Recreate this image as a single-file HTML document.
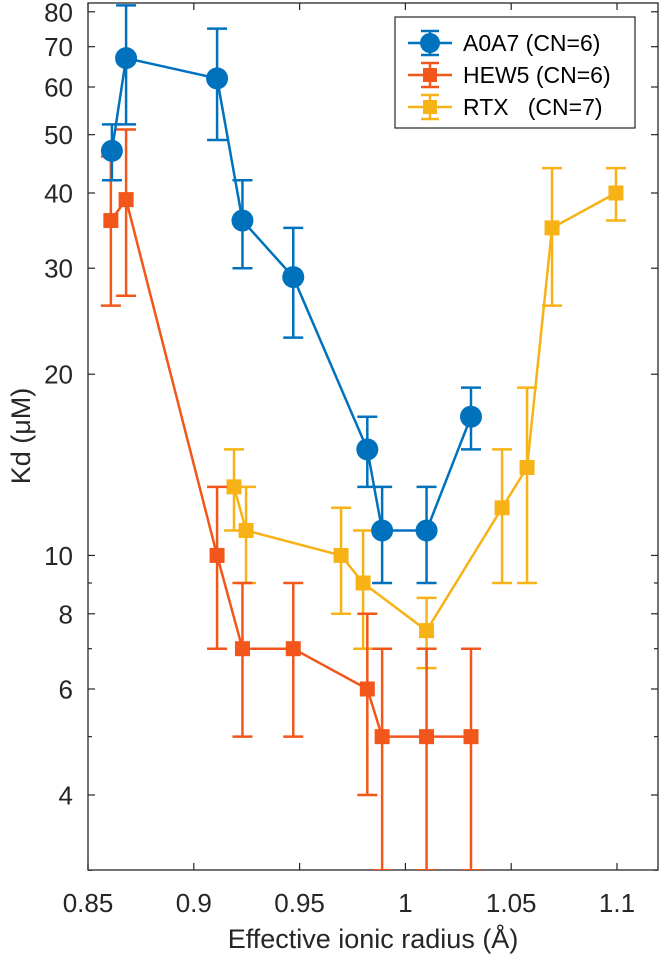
<!DOCTYPE html>
<html><head><meta charset="utf-8"><style>
body{margin:0;background:#fff;}
svg{display:block;font-family:"Liberation Sans",sans-serif;}
</style></head><body>
<svg id="chart" width="661" height="959"></svg>
<script>
const xTicks=[0.85,0.9,0.95,1,1.05,1.1];
const xTickLabels=["0.85","0.9","0.95","1","1.05","1.1"];
const yTicks=[4,6,8,10,20,30,40,50,60,70,80];
const yTickLabels=["4","6","8","10","20","30","40","50","60","70","80"];
const yMinorTicks=[3,5,7,9];
const a0a7X=[0.8613,0.868,0.911,0.923,0.947,0.982,0.989,1.010,1.031];
const a0a7Y=[47,67,62,36,29,15,11,11,17];
const a0a7Lo=[42,52,49,30,23,13,9,9,15];
const a0a7Hi=[52,82,75,42,35,17,13,13,19];
const hew5X=[0.8608,0.868,0.911,0.923,0.947,0.982,0.989,1.010,1.031];
const hew5Y=[36,39,10,7,7,6,5,5,5];
const hew5Lo=[26,27,7,5,5,4,3,3,3];
const hew5Hi=[46,51,13,9,9,8,7,7,7];
const rtxX=[0.919,0.9247,0.9696,0.98,1.010,1.0457,1.0575,1.0693,1.0995];
const rtxY=[13,11,10,9,7.5,12,14,35,40];
const rtxLo=[11,9,8,7,6.5,9,9,26,36];
const rtxHi=[15,13,12,11,8.5,15,19,44,44];

const L=88,R=658,T=3,B=870;
const X=v=>88+(v-0.85)*2116;
const Y=v=>193-602*Math.log10(v/40);
const NS="http://www.w3.org/2000/svg";
const svg=document.getElementById('chart');
function mk(tag,attrs,parent){const e=document.createElementNS(NS,tag);for(const k in attrs)e.setAttribute(k,attrs[k]);(parent||svg).appendChild(e);return e;}

const clip=mk('clipPath',{id:'pc'});mk('rect',{x:L,y:T,width:R-L,height:B-T},clip);

const axes=mk('g',{});


mk('rect',{x:L,y:T,width:R-L,height:B-T,fill:'none',stroke:'#262626','stroke-width':1.3},axes);
xTicks.forEach((t,i)=>{
  const x=X(t);
  mk('line',{x1:x,y1:B,x2:x,y2:B-7,stroke:'#262626','stroke-width':1.2},axes);
  mk('line',{x1:x,y1:T,x2:x,y2:T+7,stroke:'#262626','stroke-width':1.2},axes);
  const tx=mk('text',{x:x,y:912,'text-anchor':'middle','font-size':26,fill:'#262626'},axes);
  tx.textContent=xTickLabels[i];
  
  
});
yTicks.forEach((t,i)=>{
  const y=Y(t);
  mk('line',{x1:L,y1:y,x2:L+7,y2:y,stroke:'#262626','stroke-width':1.2},axes);
  mk('line',{x1:R,y1:y,x2:R-7,y2:y,stroke:'#262626','stroke-width':1.2},axes);
  const tx=mk('text',{x:73,y:y+9.5,'text-anchor':'end','font-size':26,fill:'#262626'},axes);
  tx.textContent=yTickLabels[i];
  
  
});
yMinorTicks.forEach(t=>{
  const y=Y(t);
  mk('line',{x1:L,y1:y,x2:L+4,y2:y,stroke:'#262626','stroke-width':1.2},axes);
  mk('line',{x1:R,y1:y,x2:R-4,y2:y,stroke:'#262626','stroke-width':1.2},axes);
});
const xl=mk('text',{x:373,y:948,'text-anchor':'middle','font-size':27,fill:'#262626'});
xl.textContent='Effective ionic radius (Å)';


const yl=mk('text',{x:0,y:0,'text-anchor':'middle','font-size':27,fill:'#262626',transform:'translate(30,436) rotate(-90)'});
yl.textContent='Kd (μM)';



function series(name,xs,ys,lo,hi,color,shape){
  const g=mk('g',{'clip-path':'url(#pc)'});
  
  
  xs.forEach((v,i)=>{
    const x=X(v);
    mk('line',{x1:x,y1:Y(lo[i]),x2:x,y2:Y(hi[i]),stroke:color,'stroke-width':2.5},g);
    mk('line',{x1:x-10,y1:Y(lo[i]),x2:x+10,y2:Y(lo[i]),stroke:color,'stroke-width':2.5},g);
    mk('line',{x1:x-10,y1:Y(hi[i]),x2:x+10,y2:Y(hi[i]),stroke:color,'stroke-width':2.5},g);
  });
  mk('polyline',{points:xs.map((v,i)=>X(v)+','+Y(ys[i])).join(' '),fill:'none',stroke:color,'stroke-width':2.5},g);
  xs.forEach((v,i)=>{
    let m;
    if(shape==='circle') m=mk('circle',{cx:X(v),cy:Y(ys[i]),r:11,fill:color},g);
    else m=mk('rect',{x:X(v)-7.5,y:Y(ys[i])-7.5,width:15,height:15,fill:color},g);
    
    
  });
}
series('rtx',rtxX,rtxY,rtxLo,rtxHi,'#F7B316','square');
series('hew5',hew5X,hew5Y,hew5Lo,hew5Hi,'#F2561A','square');
series('a0a7',a0a7X,a0a7Y,a0a7Lo,a0a7Hi,'#0072BD','circle');

const lg=mk('g',{});


mk('rect',{x:395,y:17,width:240,height:111,fill:'#fff',stroke:'#262626','stroke-width':1.2},lg);
const legItems=[['A0A7 (CN=6)','#0072BD','circle',43],['HEW5 (CN=6)','#F2561A','square',75],['RTX   (CN=7)','#F7B316','square',107]];
legItems.forEach(it=>{
  const [lab,c,sh,y]=it;
  const e=mk('g',{},lg);
  
  
  mk('line',{x1:408,y1:y,x2:452,y2:y,stroke:c,'stroke-width':2.5},e);
  mk('line',{x1:430,y1:y-12,x2:430,y2:y+12,stroke:c,'stroke-width':2.5},e);
  mk('line',{x1:421,y1:y-12,x2:439,y2:y-12,stroke:c,'stroke-width':2.5},e);
  mk('line',{x1:421,y1:y+12,x2:439,y2:y+12,stroke:c,'stroke-width':2.5},e);
  if(sh==='circle') mk('circle',{cx:430,cy:y,r:10,fill:c},e);
  else mk('rect',{x:423,y:y-7,width:14,height:14,fill:c},e);
  const t=mk('text',{x:463,y:y+8,'font-size':23,fill:'#000'},e);
  t.setAttribute('style','white-space:pre');
  t.textContent=lab;
});
</script>
</body></html>
